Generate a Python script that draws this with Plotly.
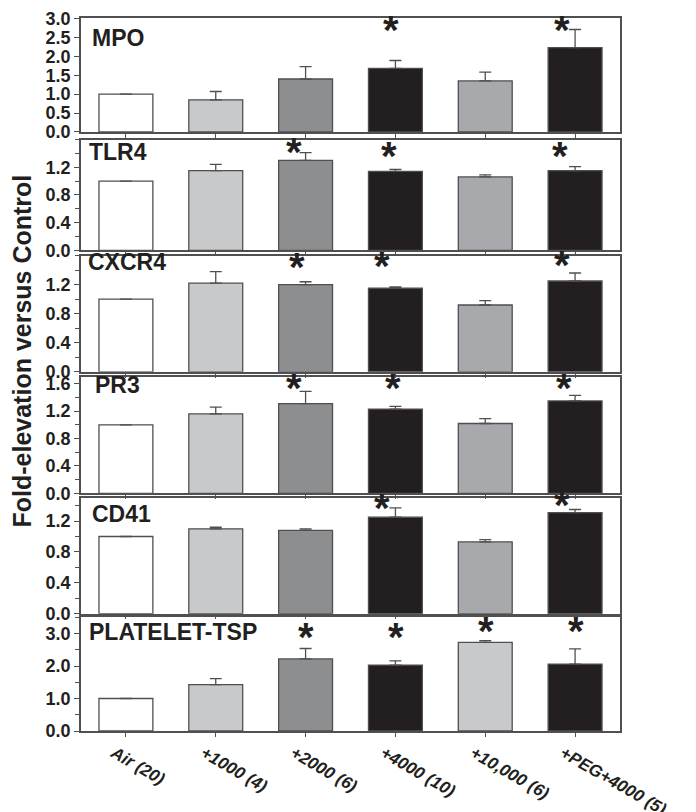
import plotly.graph_objects as go
from plotly.subplots import make_subplots

# groups on the x axis
groups = ["Air (20)", "+1000 (4)", "+2000 (6)", "+4000 (10)", "+10,000 (6)", "+PEG+4000 (5)"]

# one panel per marker, fold-elevation versus control (mean and upper error)
markers = ["MPO", "TLR4", "CXCR4", "PR3", "CD41", "PLATELET-TSP"]
mpo = [1.00, 0.85, 1.40, 1.68, 1.35, 2.23]
mpo_err = [None, 0.22, 0.33, 0.21, 0.23, 0.48]
tlr4 = [1.00, 1.15, 1.30, 1.14, 1.06, 1.15]
tlr4_err = [None, 0.09, 0.11, 0.03, 0.03, 0.06]
cxcr4 = [1.00, 1.22, 1.20, 1.15, 0.92, 1.25]
cxcr4_err = [None, 0.16, 0.04, 0.02, 0.06, 0.11]
pr3 = [1.00, 1.16, 1.31, 1.23, 1.02, 1.35]
pr3_err = [None, 0.10, 0.18, 0.04, 0.07, 0.08]
cd41 = [1.00, 1.10, 1.08, 1.25, 0.93, 1.31]
cd41_err = [None, 0.02, 0.02, 0.12, 0.03, 0.04]
tsp = [1.00, 1.43, 2.22, 2.03, 2.73, 2.06]
tsp_err = [None, 0.18, 0.32, 0.13, 0.05, 0.47]

# which groups carry an asterisk in each panel
sig_mpo = [3, 5]
sig_tlr4 = [2, 3, 5]
sig_cxcr4 = [2, 3, 5]
sig_pr3 = [2, 3, 5]
sig_cd41 = [3, 5]
sig_tsp = [2, 3, 4, 5]

# y axis ticks per panel
ticks_mpo = [0.0, 0.5, 1.0, 1.5, 2.0, 2.5, 3.0]
ticks_tlr4 = [0.0, 0.4, 0.8, 1.2]
ticks_cxcr4 = [0.0, 0.4, 0.8, 1.2]
ticks_pr3 = [0.0, 0.4, 0.8, 1.2, 1.6]
ticks_cd41 = [0.0, 0.4, 0.8, 1.2]
ticks_tsp = [0.0, 1.0, 2.0, 3.0]

values = [mpo, tlr4, cxcr4, pr3, cd41, tsp]
errors = [mpo_err, tlr4_err, cxcr4_err, pr3_err, cd41_err, tsp_err]
sigs = [sig_mpo, sig_tlr4, sig_cxcr4, sig_pr3, sig_cd41, sig_tsp]
ticks = [ticks_mpo, ticks_tlr4, ticks_cxcr4, ticks_pr3, ticks_cd41, ticks_tsp]

# styling / layout
# page body keeps its 8px margin; the photo squeezes the page height a little (812/828)
OFF = 8
S = 812 / 828
W, H = 680, 812
ML, MR, MT, MB = 73, 68, 1, 76
PW, PH = W - ML - MR, H - MT - MB
# panel extents in target pixels (top, bottom)
panel_px = [(9, 124), (131.7, 243.7), (249, 366.5), (371.7, 489.3), (494, 611), (614.7, 730)]
yranges = [[0, 3.01], [0, 1.6], [0, 1.6], [0, 1.7], [0, 1.5], [0, 3.5]]
minor_dt = [None, 0.2, 0.2, 0.2, 0.2, 0.5]
label_pos = [(90, 22), (87, 15), (86, 9), (93, 10), (90, 18), (87, 17)]  # left x, centre below top
star_off = [
    [(-4, 9), (-13, 9)],
    [(-12, 10), (-6, 14), (-15, 14)],
    [(-9, 9), (-13, 8), (-13, 6)],
    [(-12, 8), (-2, 8), (-11, 8)],
    [(-13, 7), (-13, 4)],
    [(0, 17), (1, 17), (1, 11), (1, 11)],
]
white, light, mid, dark, grey = "#ffffff", "#c8c9cb", "#8d8e90", "#231f20", "#a7a9ac"
fills = [[white, light, mid, dark, grey, dark]] * 5 + [[white, light, mid, dark, light, dark]]
edge = "#4f4f51"
box = "#505050"
ink = "#231f20"
FONT = "Liberation Sans, Arial, sans-serif"


def px_x(x):
    return (x - OFF - ML) / PW


def px_y(y):
    fy = y / S - OFF
    return (H - MB - fy) / PH


def clamp(v):
    return min(1.0, max(0.0, v))


fig = make_subplots(rows=6, cols=1, shared_xaxes=False, vertical_spacing=0.0)

for i in range(6):
    err = errors[i]
    fig.add_trace(
        go.Bar(
            x=groups,
            y=values[i],
            width=0.6,
            marker={"color": fills[i], "line": {"color": edge, "width": 1.3}},
            error_y={
                "type": "data",
                "symmetric": False,
                "array": err,
                "arrayminus": [0] * len(err),
                "color": edge,
                "thickness": 1.3,
                "width": 6,
            },
            showlegend=False,
            hoverinfo="skip",
        ),
        row=i + 1,
        col=1,
    )

layout = {}
for i in range(6):
    n = "" if i == 0 else str(i + 1)
    top, bot = panel_px[i]
    last = i == 5
    layout["xaxis" + n] = {
        "domain": [0, 1],
        "anchor": "y" + n,
        "type": "category",
        "range": [-0.5, 5.5],
        "showline": True,
        "linecolor": box,
        "linewidth": 1.5,
        "mirror": True,
        "ticks": "outside",
        "ticklen": 4,
        "tickcolor": box,
        "showgrid": False,
        "showticklabels": last,
        "tickangle": 30,
        "ticklabelshift": -12,
        "tickfont": {"family": FONT, "size": 17, "color": ink, "weight": 700, "style": "italic"},
    }
    yax = {
        "domain": [clamp(px_y(bot)), clamp(px_y(top))],
        "anchor": "x" + n,
        "range": yranges[i],
        "showline": True,
        "linecolor": box,
        "linewidth": 1.5,
        "mirror": True,
        "ticks": "outside",
        "ticklen": 5,
        "tickcolor": box,
        "tickvals": ticks[i],
        "tickformat": ".1f",
        "showgrid": False,
        "zeroline": False,
        "ticklabeloverflow": "allow",
        "tickfont": {"family": FONT, "size": 18, "color": ink, "weight": 700},
    }
    if minor_dt[i]:
        yax["minor"] = {"dtick": minor_dt[i], "tick0": 0, "ticks": "outside", "ticklen": 4, "tickcolor": box}
    layout["yaxis" + n] = yax

fig.update_layout(**layout)

annotations = []
for i in range(6):
    top, bot = panel_px[i]
    lx, ly = label_pos[i]
    annotations.append(
        {
            "text": markers[i],
            "xref": "paper",
            "yref": "paper",
            "x": px_x(lx),
            "y": px_y(top + ly),
            "xanchor": "left",
            "yanchor": "middle",
            "yshift": 2,
            "showarrow": False,
            "font": {"family": FONT, "size": 23, "color": ink, "weight": 700},
        }
    )
    for k, g in enumerate(sigs[i]):
        dx, dy = star_off[i][k]
        cx = OFF + ML + (g + 0.5) * PW / 6 + dx
        annotations.append(
            {
                "text": "*",
                "xref": "paper",
                "yref": "paper",
                "x": px_x(cx),
                "y": px_y(top + dy),
                "xanchor": "center",
                "yanchor": "middle",
                "yshift": -3,
                "showarrow": False,
                "font": {"family": FONT, "size": 40, "color": ink, "weight": 700},
            }
        )

annotations.append(
    {
        "text": "Fold-elevation versus Control",
        "xref": "paper",
        "yref": "paper",
        "x": px_x(22),
        "y": px_y(346),
        "xanchor": "center",
        "yanchor": "middle",
        "textangle": -90,
        "showarrow": False,
        "font": {"family": FONT, "size": 25, "color": ink, "weight": 700},
    }
)

fig.update_layout(
    width=W,
    height=H,
    margin={"l": ML, "r": MR, "t": MT, "b": MB},
    paper_bgcolor="white",
    plot_bgcolor="white",
    bargap=0.4,
    annotations=annotations,
)

fig.write_html("out.html")
